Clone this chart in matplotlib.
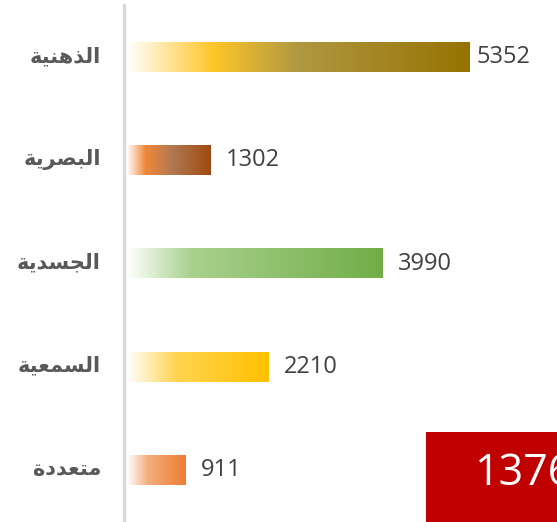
import numpy as np
import matplotlib
matplotlib.use("Agg")
import matplotlib.pyplot as plt
from matplotlib.colors import to_rgb
from matplotlib.lines import Line2D
from matplotlib.patches import Rectangle

# ---------------- data ----------------
categories = ["الذهنية", "البصرية", "الجسدية", "السمعية", "متعددة"]
values = [5352, 1302, 3990, 2210, 911]
total_label = "13765"

# gradient stops per bar (position, colour)
gradients = [
    [(0.0, "#FFFFFF"), (0.25, "#FFC629"), (0.5, "#B09842"), (1.0, "#967200")],
    [(0.0, "#FFFFFF"), (0.22, "#F08838"), (0.55, "#B07852"), (1.0, "#9E4A10")],
    [(0.0, "#FFFFFF"), (0.25, "#A9D18E"), (1.0, "#70AD47")],
    [(0.0, "#FFFFFF"), (0.35, "#FFD44F"), (1.0, "#FFC000")],
    [(0.0, "#FFFFFF"), (0.35, "#F4AF7E"), (1.0, "#ED7D31")],
]

# -------- minimal Arabic shaping (presentation forms) --------
FORMS = {  # iso, fin, init, med
    "ا": ("\uFE8D", "\uFE8E", None, None),
    "ب": ("\uFE8F", "\uFE90", "\uFE91", "\uFE92"),
    "ة": ("\uFE93", "\uFE94", None, None),
    "ت": ("\uFE95", "\uFE96", "\uFE97", "\uFE98"),
    "ج": ("\uFE9D", "\uFE9E", "\uFE9F", "\uFEA0"),
    "د": ("\uFEA9", "\uFEAA", None, None),
    "ذ": ("\uFEAB", "\uFEAC", None, None),
    "ر": ("\uFEAD", "\uFEAE", None, None),
    "س": ("\uFEB1", "\uFEB2", "\uFEB3", "\uFEB4"),
    "ص": ("\uFEB9", "\uFEBA", "\uFEBB", "\uFEBC"),
    "ع": ("\uFEC9", "\uFECA", "\uFECB", "\uFECC"),
    "ل": ("\uFEDD", "\uFEDE", "\uFEDF", "\uFEE0"),
    "م": ("\uFEE1", "\uFEE2", "\uFEE3", "\uFEE4"),
    "ن": ("\uFEE5", "\uFEE6", "\uFEE7", "\uFEE8"),
    "ه": ("\uFEE9", "\uFEEA", "\uFEEB", "\uFEEC"),
    "ي": ("\uFEF1", "\uFEF2", "\uFEF3", "\uFEF4"),
}


def dual(c):
    return c in FORMS and FORMS[c][2] is not None


def shape(word):
    out = []
    n = len(word)
    for i, c in enumerate(word):
        if c not in FORMS:
            out.append(c)
            continue
        jp = i > 0 and dual(word[i - 1])
        jn = dual(c) and i + 1 < n and word[i + 1] in FORMS
        iso, fin, ini, med = FORMS[c]
        if jp and jn:
            out.append(med)
        elif jp:
            out.append(fin)
        elif jn:
            out.append(ini)
        else:
            out.append(iso)
    return "".join(reversed(out))


# ---------------- figure ----------------
W, H = 557, 522
fig = plt.figure(figsize=(W / 100, H / 100), dpi=100)
fig.patch.set_facecolor("white")

x_left = 127
px_per_unit = 343 / 5352
ax = fig.add_axes([x_left / W, 0, (W - x_left) / W, 1])
ax.set_xlim(0, (W - x_left) / px_per_unit)
spacing = 103.25
ax.set_ylim(4 + 52 / spacing, -57 / spacing)
ax.axis("off")

bar_h = 30 / spacing
ypos = np.arange(len(categories))


def grad_image(stops, n=256):
    xs = np.linspace(0, 1, n)
    pos = [s[0] for s in stops]
    cols = np.array([to_rgb(s[1]) for s in stops])
    rgb = np.stack([np.interp(xs, pos, cols[:, k]) for k in range(3)], axis=-1)
    return rgb[np.newaxis, :, :]


bars = ax.barh(ypos, values, height=bar_h, color="none", edgecolor="none")
for rect, stops in zip(bars, gradients):
    x0, y0 = rect.get_x(), rect.get_y()
    w, h = rect.get_width(), rect.get_height()
    ax.imshow(grad_image(stops), extent=(x0, x0 + w, y0 + h, y0),
              aspect="auto", interpolation="bilinear", zorder=2)

# value labels: 15 px after the bar end, but kept inside the plot area
max_label_x = (477 - x_left) / px_per_unit
for y, v in zip(ypos, values):
    lx = min(v + 15 / px_per_unit, max_label_x)
    ax.text(lx, y, f"{v}", va="center", ha="left",
            fontsize=17, color="#404040", family="Open Sans")

# category labels
for y, c in zip(ypos, categories):
    fig.text(101 / W, 1 - (56 + y * spacing) / H, shape(c), ha="right",
             va="center", fontsize=15, fontweight="bold", color="#595959",
             family=["DejaVu Sans"])

# vertical separator line
fig.add_artist(Line2D([124 / W, 124 / W], [0, 1 - 5 / H], color="#D9D9D9",
                      linewidth=2.4, transform=fig.transFigure))

# red total box
fig.add_artist(Rectangle((426 / W, 0), (W - 426) / W + 0.05, (H - 432) / H,
                         transform=fig.transFigure, facecolor="#C00000",
                         edgecolor="none"))
fig.text(474 / W, 1 - 474 / H, total_label, ha="left", va="center",
         fontsize=31, color="white", family="Open Sans")

fig.savefig("out.png", dpi=100)
